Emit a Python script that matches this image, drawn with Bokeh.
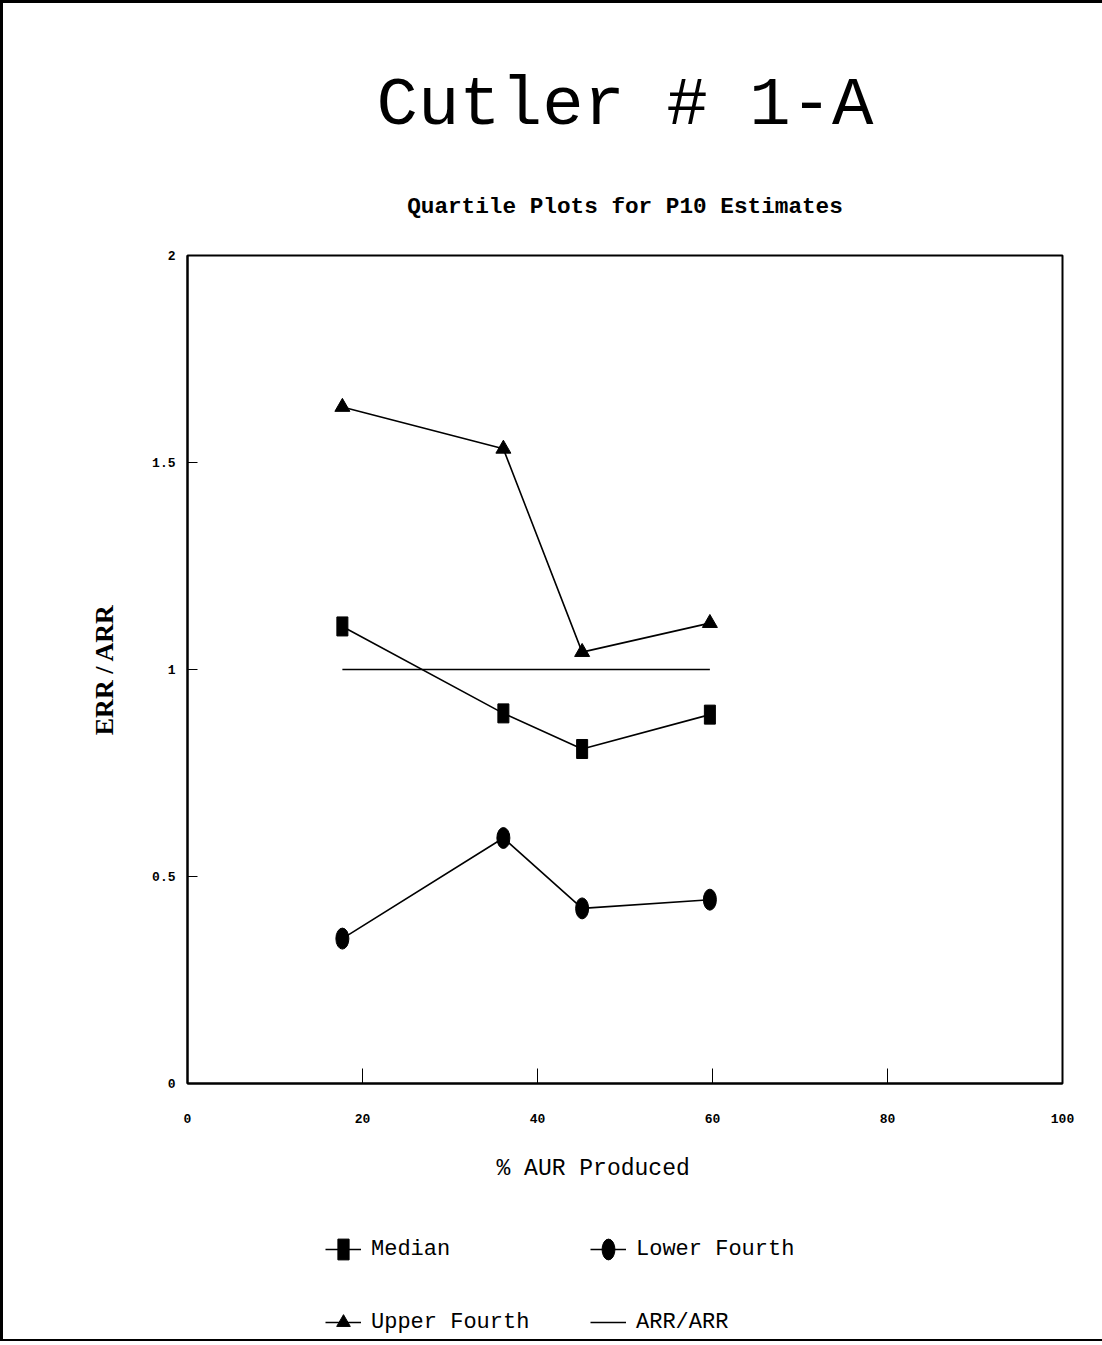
from bokeh.plotting import figure
from bokeh.layouts import column
from bokeh.models import Range1d, FixedTicker, Legend, LegendItem, Title
from bokeh.embed import file_html
from bokeh.resources import INLINE

# Quartile values of ERR/ARR for the P10 estimates, by percent of AUR produced
pct_aur = [17.7, 36.1, 45.1, 59.7]
median = [1.104, 0.894, 0.808, 0.891]
lower_fourth = [0.350, 0.593, 0.423, 0.444]
upper_fourth = [1.634, 1.533, 1.042, 1.112]
arr_ratio = [1.0, 1.0, 1.0, 1.0]

x_ticks = [0, 20, 40, 60, 80, 100]
y_ticks = [0, 0.5, 1, 1.5, 2]
y_tick_labels = {0: "0", 0.5: "0.5", 1: "1", 1.5: "1.5", 2: "2"}

MONO = "Liberation Mono"
SERIF = "Liberation Serif"
INK = "black"


def add_series(fig):
    """Draw the four series on a figure and return their renderers."""
    line_kw = dict(line_color=INK, line_width=1.6)
    r = {}
    r["upper_line"] = fig.line(pct_aur, upper_fourth, **line_kw)
    r["upper_pts"] = fig.scatter(pct_aur, upper_fourth, marker="triangle", size=15,
                                 fill_color=INK, line_color=INK)
    r["median_line"] = fig.line(pct_aur, median, **line_kw)
    r["median_pts"] = fig.rect(pct_aur, median, width=11, height=19,
                               width_units="screen", height_units="screen",
                               fill_color=INK, line_color=INK)
    r["lower_line"] = fig.line(pct_aur, lower_fourth, **line_kw)
    r["lower_pts"] = fig.ellipse(pct_aur, lower_fourth, width=13, height=21,
                                 width_units="screen", height_units="screen",
                                 fill_color=INK, line_color=INK)
    r["arr_line"] = fig.line(pct_aur, arr_ratio, **line_kw)
    return r


# ---- main chart (page rule on top and left) ---------------------------------
p = figure(width=1102, height=1206,
           x_range=Range1d(0, 100), y_range=Range1d(0, 2),
           output_backend="svg", toolbar_location=None, title=None,
           min_border_left=184, min_border_right=43,
           min_border_top=252, min_border_bottom=126)
p.background_fill_color = "white"
p.border_fill_color = "white"
p.outline_line_color = INK
p.outline_line_width = 2
p.outline_line_alpha = 1.0
p.xgrid.visible = False
p.ygrid.visible = False
p.styles = {"border-top": "3px solid black", "border-left": "3px solid black",
            "box-sizing": "border-box"}

for ax in (p.xaxis, p.yaxis):
    ax.axis_line_width = 2
    ax.axis_line_color = INK
    ax.major_tick_out = 0
    ax.minor_tick_line_color = None
    ax.major_tick_line_color = INK
    ax.major_tick_line_width = 1
    ax.major_label_text_font = MONO
    ax.major_label_text_font_style = "bold"
    ax.major_label_text_font_size = "13px"
    ax.major_label_text_color = INK

p.xaxis.ticker = FixedTicker(ticks=x_ticks)
p.xaxis.major_tick_in = 15
p.xaxis.major_label_standoff = 30

p.yaxis.ticker = FixedTicker(ticks=y_ticks)
p.yaxis.major_tick_in = 10
p.yaxis.major_label_standoff = 12
p.yaxis.major_label_overrides = y_tick_labels
p.yaxis.axis_label = "ERR / ARR"
p.yaxis.axis_label_text_font = SERIF
p.yaxis.axis_label_text_font_style = "bold"
p.yaxis.axis_label_text_font_size = "26px"
p.yaxis.axis_label_text_color = INK
p.yaxis.axis_label_standoff = 30

series = add_series(p)

# titles (the later one sits farther from the frame)
p.add_layout(Title(text="Quartile Plots for P10 Estimates", align="center",
                   text_font=MONO, text_font_size="22.7px", text_font_style="bold",
                   text_color=INK, standoff=72), "above")
p.add_layout(Title(text="Cutler # 1-A", align="center",
                   text_font=MONO, text_font_size="69px", text_font_style="normal",
                   text_color=INK, standoff=21), "above")

# x axis name
p.add_layout(Title(text="% AUR Produced", align="left", offset=309,
                   text_font=MONO, text_font_size="23px", text_font_style="normal",
                   text_color=INK, standoff=56), "below")

# ---- key under the chart (page rule on left and bottom) -----------------------
key = figure(width=1102, height=135,
             x_range=Range1d(1000, 2102), y_range=Range1d(0, 135),
             output_backend="svg", toolbar_location=None, title=None,
             x_axis_location=None, y_axis_location=None, min_border=0)
key.outline_line_color = None
key.background_fill_color = "white"
key.border_fill_color = "white"
key.grid.visible = False
key.styles = {"border-left": "3px solid black", "border-bottom": "2px solid black",
              "box-sizing": "border-box"}

# the same series, kept outside this panel's view; only their key glyphs show
ks = add_series(key)


def add_key(label, renderers, loc, gw=36, gh=26):
    leg = Legend(items=[LegendItem(label=label, renderers=renderers)],
                 location=loc, glyph_width=gw, glyph_height=gh,
                 label_height=gh, label_standoff=10,
                 label_text_font=MONO, label_text_font_size="22px",
                 label_text_color=INK,
                 padding=0, margin=0, spacing=0,
                 border_line_color=None, background_fill_alpha=0)
    key.add_layout(leg)


add_key("Median", [ks["median_line"]], (138, 79))
add_key("", [ks["median_pts"]], (149, 79), gw=14)
add_key("Lower Fourth", [ks["lower_line"], ks["lower_pts"]], (403, 79))
add_key("Upper Fourth", [ks["upper_line"], ks["upper_pts"]], (138, 2), gh=34)
add_key("ARR/ARR", [ks["arr_line"]], (403, 6))

page = column(p, key, spacing=0, styles={"vertical-align": "top"})
open("out.html", "w").write(file_html(page, INLINE))
